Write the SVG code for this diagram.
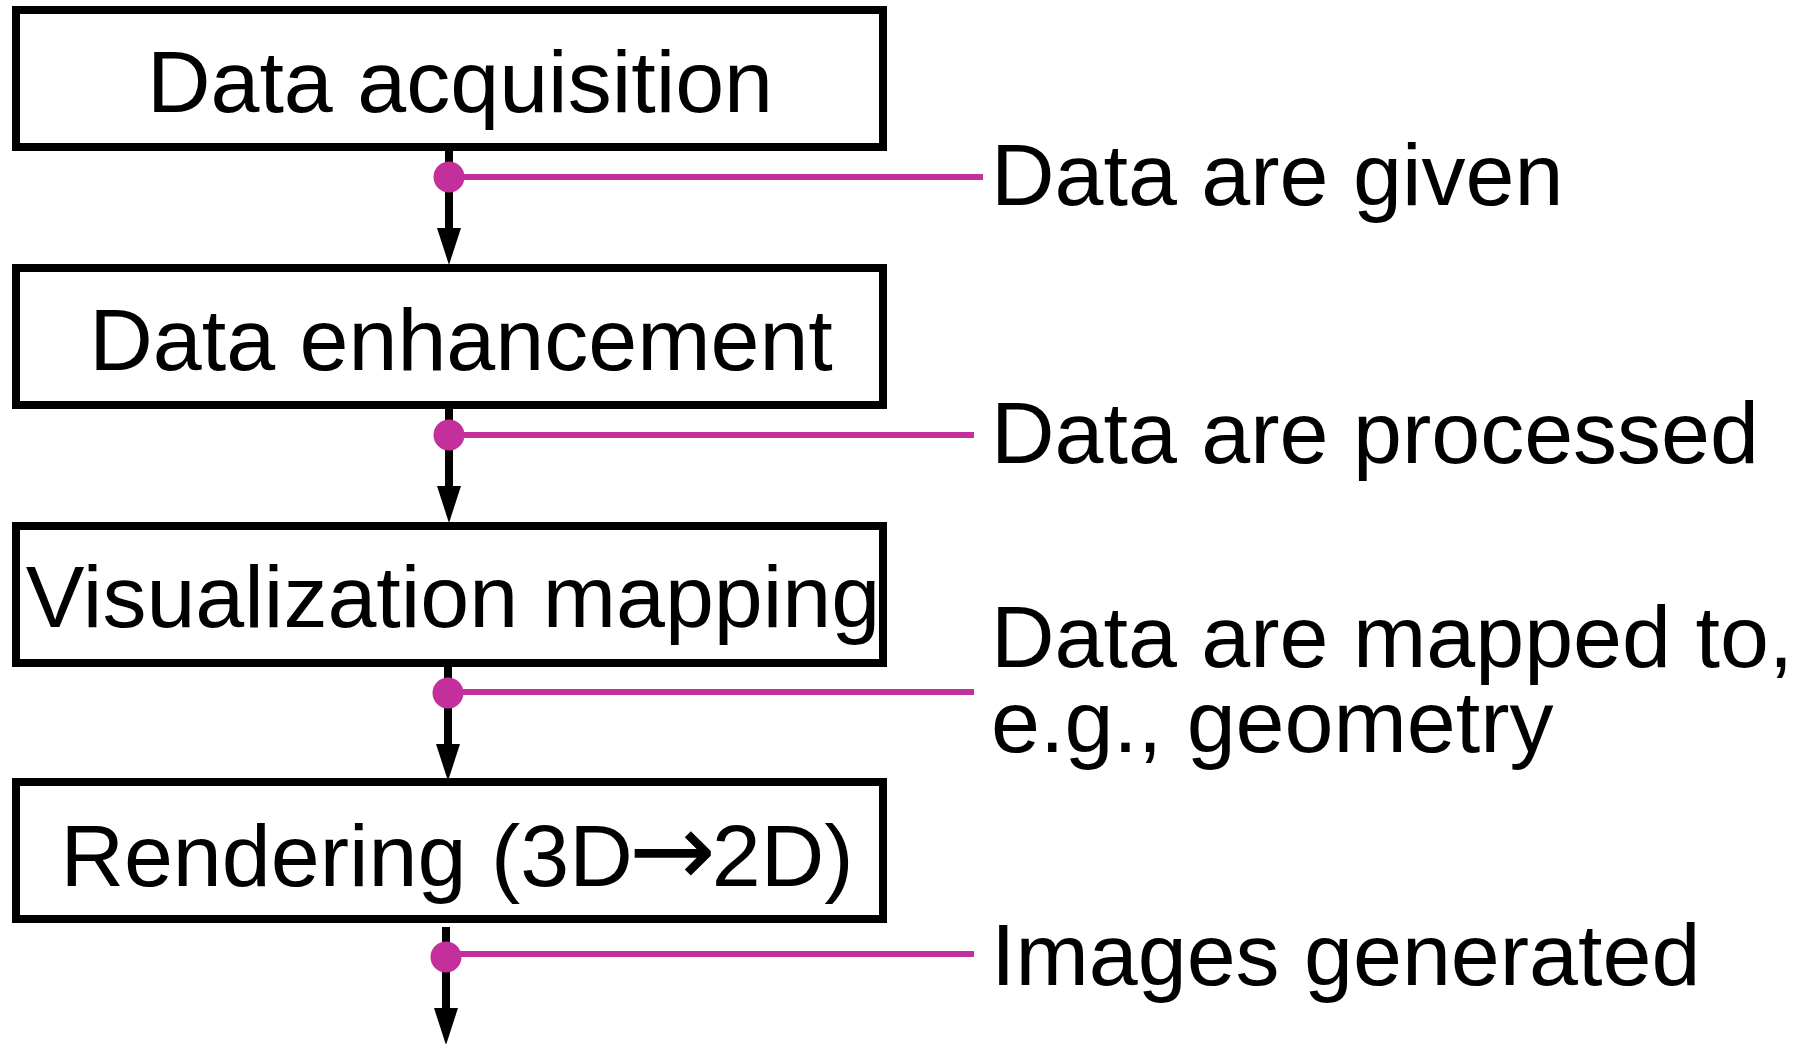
<svg xmlns="http://www.w3.org/2000/svg" width="1800" height="1044" viewBox="0 0 1800 1044">
<style>
.box{fill:#fff;stroke:#000;stroke-width:8}
.t{font-family:"Liberation Sans",Arial,sans-serif;font-size:88px;fill:#000}
.arr{font-family:"DejaVu Sans",sans-serif;font-size:104px}
.stem{stroke:#000;stroke-width:8;fill:none}
.head{fill:#000}
.lead{stroke:#C3309B;stroke-width:6;fill:none}
.dot{fill:#C3309B}
</style>
<rect width="1800" height="1044" fill="#fff"/>
<g id="node-acquisition">
<rect class="box" x="16" y="10" width="867" height="137"/>
<text class="t" x="460" y="112" text-anchor="middle">Data acquisition</text>
</g>
<g id="node-enhancement">
<rect class="box" x="16" y="268" width="867" height="137"/>
<text class="t" x="461" y="370" text-anchor="middle">Data enhancement</text>
</g>
<g id="node-mapping">
<rect class="box" x="16" y="526" width="867" height="137"/>
<text class="t" x="453" y="627" text-anchor="middle">Visualization mapping</text>
</g>
<g id="node-rendering">
<rect class="box" x="16" y="782" width="867" height="137"/>
<text class="t" x="457" y="886" text-anchor="middle">Rendering (3D<tspan class="arr" dx="-4">→</tspan><tspan dx="-4">2D)</tspan></text>
</g>
<g id="connectors">
<line class="stem" x1="449" y1="151" x2="449" y2="232"/>
<polygon class="head" points="437,228 461,228 449,265"/>
<line class="stem" x1="449" y1="409" x2="449" y2="490"/>
<polygon class="head" points="437,486 461,486 449,523"/>
<line class="stem" x1="448" y1="667" x2="448" y2="748"/>
<polygon class="head" points="436,744 460,744 448,781"/>
<line class="stem" x1="446" y1="927" x2="446" y2="1012"/>
<polygon class="head" points="434,1008 458,1008 446,1045"/>
</g>
<g id="annotation-given">
<line class="lead" x1="449" y1="177" x2="983" y2="177"/>
<circle class="dot" cx="449" cy="177" r="15.5"/>
<text class="t" x="991" y="205">Data are given</text>
</g>
<g id="annotation-processed">
<line class="lead" x1="449" y1="435" x2="974" y2="435"/>
<circle class="dot" cx="449" cy="435" r="15.5"/>
<text class="t" x="991" y="463">Data are processed</text>
</g>
<g id="annotation-mapped">
<line class="lead" x1="448" y1="692" x2="974" y2="692"/>
<circle class="dot" cx="448" cy="693" r="15.5"/>
<text class="t" x="991" y="667">Data are mapped to,</text>
<text class="t" x="991" y="752">e.g., geometry</text>
</g>
<g id="annotation-images">
<line class="lead" x1="446" y1="954" x2="974" y2="954"/>
<circle class="dot" cx="446" cy="957" r="15.5"/>
<text class="t" x="991" y="985">Images generated</text>
</g>
</svg>
